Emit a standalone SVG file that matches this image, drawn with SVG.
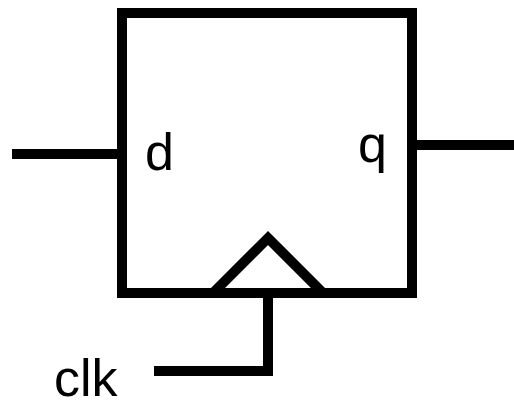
<svg xmlns="http://www.w3.org/2000/svg" width="514" height="404" viewBox="0 0 514 404">
<style>
.ln{fill:none;stroke:#000;stroke-width:10;stroke-linecap:butt;stroke-linejoin:miter}
.lb{font-family:"Liberation Sans",Arial,sans-serif;font-size:52px;fill:#000}
</style>
<rect width="514" height="404" fill="#fff"/>
<g id="dff">
<rect class="ln" x="122" y="13" width="290" height="280"/>
<polyline class="ln" points="213,293 268,238 323,293"/>
<text class="lb" x="145" y="170">d</text>
<text class="lb" x="358" y="162">q</text>
</g>
<g id="clk-label">
<text class="lb" x="54" y="396">clk</text>
</g>
<g id="connectors">
<line class="ln" x1="12" y1="154" x2="117" y2="154"/>
<line class="ln" x1="417" y1="145" x2="514" y2="145"/>
<polyline class="ln" points="154,371 268,371 268,298"/>
</g>
</svg>
